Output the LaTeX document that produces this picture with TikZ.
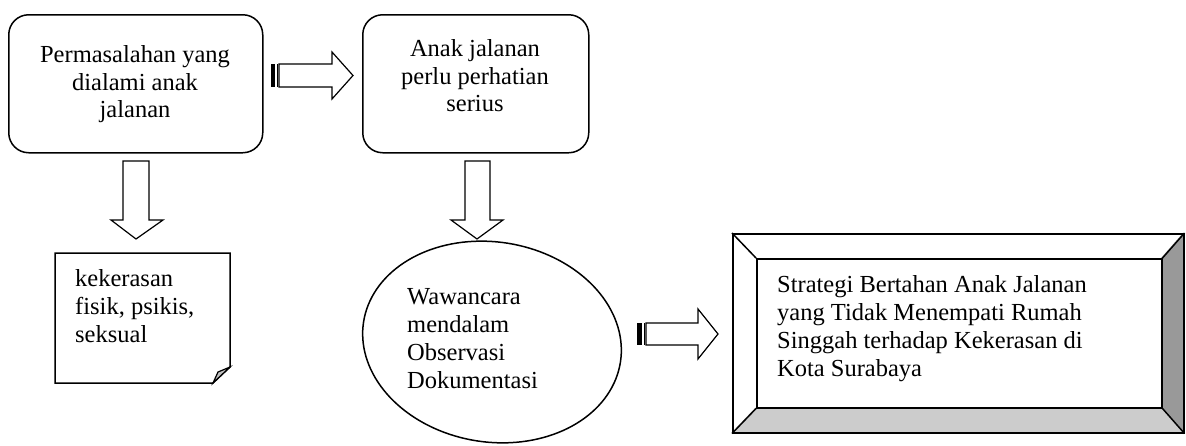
\documentclass[tikz,border=0pt]{standalone}
\usepackage{fontspec}
\setmainfont{Liberation Serif}
\begin{document}
\begin{tikzpicture}[x=1pt,y=-1pt,line join=miter]
\tikzset{
  outline/.style={draw=black,line width=1.5pt},
  txt/.style={inner sep=0pt,font=\fontsize{24.5}{28}\selectfont,anchor=north},
  blockarrow/.style={draw=black,line width=1.2pt,fill=white},
  stripe/.style={fill=black},
}
\useasboundingbox (0,0) rectangle (1186,445);

% rounded boxes
\node[outline,rounded corners=20pt,minimum width=254pt,minimum height=138pt,anchor=north west] (prob) at (8,14) {};
\node[outline,rounded corners=20pt,minimum width=226pt,minimum height=138pt,anchor=north west] (need) at (362,14) {};
\node[txt,align=center,font=\fontsize{24.5}{27.5}\selectfont] (probtxt) at (135,45.3) {Permasalahan yang\\dialami anak\\jalanan};
\node[txt,align=center,font=\fontsize{24.5}{27.5}\selectfont] (needtxt) at (475,39.3) {Anak jalanan\\perlu perhatian\\serius};

% note with folded corner
\draw[outline] (55,253) -- (230,253) -- (230,367) -- (213,383) -- (55,383) -- cycle;
\draw[line width=1.2pt,fill=black!25] (213,383) .. controls (215,377) .. (218,372) -- (230,367) -- cycle;
\node[txt,anchor=north west,align=left] (viol) at (75,269) {kekerasan\\fisik, psikis,\\seksual};

% ellipse (tilted slightly clockwise)
\coordinate (meth) at (492,342);
\draw[outline,line join=round] plot[domain=0:360,samples=145,variable=\t]
  ({492+128.4*cos(\t)-15.6*sin(\t)},{342+20.3*cos(\t)+98.8*sin(\t)}) -- cycle;
\node[txt,anchor=north west,align=left] (methtxt) at (407,288) {Wawancara\\mendalam\\Observasi\\Dokumentasi};

% bevel box
\fill[black!20] (732,432) -- (756,407) -- (1161,407) -- (1183,432) -- cycle;
\fill[black!40] (1183,233) -- (1161,258) -- (1161,407) -- (1183,432) -- cycle;
\node[outline,minimum width=451pt,minimum height=199pt,anchor=north west] (goal) at (732,233) {};
\node[outline,minimum width=405pt,minimum height=149pt,anchor=north west] (goalin) at (756,258) {};
\draw[line width=1.5pt] (goal.north west) -- (goalin.north west)
  (goal.north east) -- (goalin.north east)
  (goal.south west) -- (goalin.south west)
  (goal.south east) -- (goalin.south east);
\node[txt,anchor=north west,align=left] (goaltxt) at (777,275.3) {Strategi Bertahan Anak Jalanan\\yang Tidak Menempati Rumah\\Singgah terhadap Kekerasan di\\Kota Surabaya};

% striped right arrow 1
\fill[stripe] (271,64) rectangle (275,87);
\fill[stripe] (276.5,64) rectangle (277.8,87);
\draw[blockarrow] (279,64) -- (332,64) -- (332,52) -- (353,75.5) -- (332,99) -- (332,87) -- (279,87) -- cycle;

% down arrows
\draw[blockarrow] (123,161) -- (149,161) -- (149,220) -- (163,220) -- (136,239) -- (111,220) -- (123,220) -- cycle;
\draw[blockarrow] (465,161) -- (490,161) -- (490,220) -- (503,220) -- (477,239) -- (451,220) -- (465,220) -- cycle;

% striped right arrow 2
\fill[stripe] (637,323) rectangle (642,345);
\fill[stripe] (643.5,323) rectangle (644.8,345);
\draw[blockarrow] (646,323) -- (698,323) -- (698,309) -- (718,334) -- (698,359) -- (698,345) -- (646,345) -- cycle;
\end{tikzpicture}
\end{document}
